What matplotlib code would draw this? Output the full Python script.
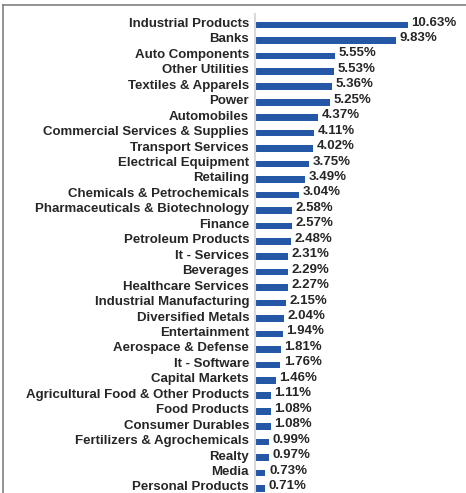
import matplotlib
matplotlib.use("Agg")
import matplotlib.pyplot as plt
from matplotlib.lines import Line2D

sectors = ["Industrial Products", "Banks", "Auto Components", "Other Utilities",
           "Textiles & Apparels", "Power", "Automobiles",
           "Commercial Services & Supplies", "Transport Services",
           "Electrical Equipment", "Retailing", "Chemicals & Petrochemicals",
           "Pharmaceuticals & Biotechnology", "Finance", "Petroleum Products",
           "It - Services", "Beverages", "Healthcare Services",
           "Industrial Manufacturing", "Diversified Metals", "Entertainment",
           "Aerospace & Defense", "It - Software", "Capital Markets",
           "Agricultural Food & Other Products", "Food Products",
           "Consumer Durables", "Fertilizers & Agrochemicals", "Realty",
           "Media", "Personal Products"]
weights = [10.63, 9.83, 5.55, 5.53, 5.36, 5.25, 4.37, 4.11, 4.02, 3.75, 3.49,
           3.04, 2.58, 2.57, 2.48, 2.31, 2.29, 2.27, 2.15, 2.04, 1.94, 1.81,
           1.76, 1.46, 1.11, 1.08, 1.08, 0.99, 0.97, 0.73, 0.71]

plt.rcParams['font.family'] = ['Liberation Sans', 'DejaVu Sans']

fig = plt.figure(figsize=(4.66, 4.93), dpi=100)
n = len(sectors)
# label centres in px from top
first_px, last_px = 22.5, 486
row = (last_px - first_px) / (n - 1)
top_lim = -0.55
top_px = first_px + top_lim * row
bot = (n - 1) + (493 - last_px) / row
ax = fig.add_axes([255 / 466, 0, 1 - 255 / 466, 1 - top_px / 493])

pos = list(range(n))
bar_shift = 0.16  # bars sit a little below the text line
ax.barh([p + bar_shift for p in pos], weights, height=0.43, color="#2458a6")
for p, w in zip(pos, weights):
    ax.text(w + 0.25, p, f"{w:.2f}%", va="center", ha="left",
            fontsize=9.5, fontweight="bold", color="#262626")

ax.set_ylim(bot, top_lim)
ax.set_xlim(0, 14.69)
ax.set_yticks(pos)
ax.set_yticklabels(sectors, fontsize=9.5, fontweight="bold", color="#262626")
ax.tick_params(axis="y", length=0, pad=4.3)
ax.set_xticks([])
for s in ["top", "right", "bottom"]:
    ax.spines[s].set_visible(False)
ax.spines["left"].set_color("#d9d9d9")
ax.spines["left"].set_linewidth(1.5)

# frame lines at top and left
fig.add_artist(Line2D([3 / 466, 1], [1 - 5 / 493, 1 - 5 / 493],
                      transform=fig.transFigure, color="#808080", lw=1.2))
fig.add_artist(Line2D([3 / 466, 3 / 466], [0, 1 - 5 / 493],
                      transform=fig.transFigure, color="#808080", lw=1.2))

fig.savefig("out.png", dpi=100)
